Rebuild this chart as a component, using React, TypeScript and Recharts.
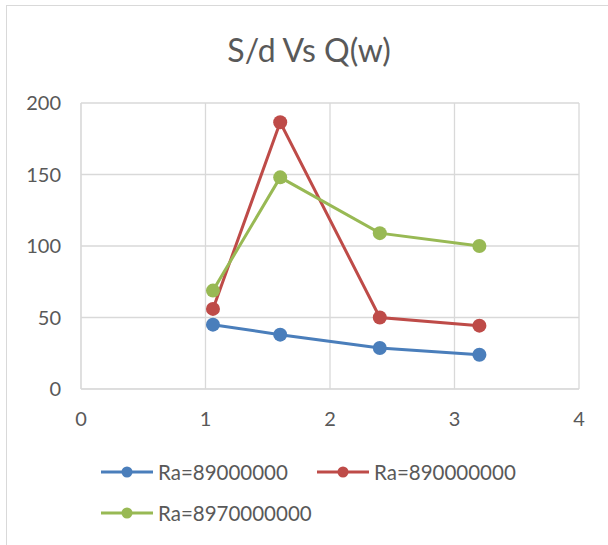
import { LineChart, Line, XAxis, YAxis, CartesianGrid } from 'recharts';

const qValues = [1.06, 1.6, 2.4, 3.2];
const ra89e6 = [45, 38, 28.7, 24];
const ra89e7 = [56, 186.5, 50, 44.3];
const ra897e7 = [68.8, 148, 109, 100];
const xTicks = [0, 1, 2, 3, 4];
const yTicks = [0, 50, 100, 150, 200];

const series = [
  { key: 's1', name: 'Ra=89000000', color: '#4a7ebb', values: ra89e6 },
  { key: 's2', name: 'Ra=890000000', color: '#be4b48', values: ra89e7 },
  { key: 's3', name: 'Ra=8970000000', color: '#98b954', values: ra897e7 },
];

const data = qValues.map((q, i) => {
  const row: Record<string, number> = { q };
  series.forEach((s) => {
    row[s.key] = s.values[i];
  });
  return row;
});

const font = 'Lato, "Open Sans", sans-serif';
const gray = '#595959';

// legend slots (two rows like the Excel legend)
const legendPos = [
  { left: 100, top: 472 },
  { left: 316, top: 472 },
  { left: 100, top: 513 },
];

function LegendItem({ name, color, left, top }: { name: string; color: string; left: number; top: number }) {
  return (
    <div style={{ position: 'absolute', left, top: top - 12, height: 24, display: 'flex', alignItems: 'center' }}>
      <svg width={54} height={24}>
        <line x1={1} y1={12} x2={53} y2={12} stroke={color} strokeWidth={3} />
        <circle cx={27} cy={12} r={5.5} fill={color} />
      </svg>
      <span style={{ marginLeft: 4, fontFamily: font, fontSize: 20.5, color: gray }}>{name}</span>
    </div>
  );
}

export default function App() {
  return (
    <div style={{ position: 'relative', width: 608, height: 545, overflow: 'hidden', background: '#fff' }}>
      <style>{'body{margin:0}'}</style>
      <div
        style={{
          position: 'absolute',
          left: 6,
          top: 5,
          width: 620,
          height: 560,
          border: '1px solid #d9d9d9',
        }}
      />
      <div
        style={{
          position: 'absolute',
          left: 0,
          width: 618,
          top: 32,
          textAlign: 'center',
          fontFamily: font,
          fontSize: 32,
          color: gray,
          lineHeight: '36px',
        }}
      >
        S/d Vs Q(w)
      </div>
      <div style={{ position: 'absolute', left: 0, top: 0 }}>
        <LineChart width={608} height={545} data={data} margin={{ top: 103, right: 29, left: 0, bottom: 116 }}>
          <CartesianGrid stroke="#d9d9d9" strokeWidth={1.3} />
          <XAxis
            dataKey="q"
            type="number"
            domain={[0, 4]}
            ticks={xTicks}
            height={40}
            tickSize={0}
            tickMargin={23}
            axisLine={{ stroke: '#d9d9d9' }}
            tick={{ fill: gray, fontSize: 20, fontFamily: font }}
          />
          <YAxis
            type="number"
            domain={[0, 200]}
            ticks={yTicks}
            width={81}
            tickSize={0}
            tickMargin={20}
            axisLine={{ stroke: '#d9d9d9' }}
            tick={{ fill: gray, fontSize: 20, fontFamily: font }}
          />
          {series.map((s) => (
            <Line
              key={s.key}
              dataKey={s.key}
              name={s.name}
              stroke={s.color}
              strokeWidth={3}
              dot={{ r: 7, fill: s.color, stroke: s.color, strokeWidth: 0 }}
              activeDot={false}
              isAnimationActive={false}
            />
          ))}
        </LineChart>
      </div>
      {series.map((s, i) => (
        <LegendItem key={s.key} name={s.name} color={s.color} left={legendPos[i].left} top={legendPos[i].top} />
      ))}
    </div>
  );
}
